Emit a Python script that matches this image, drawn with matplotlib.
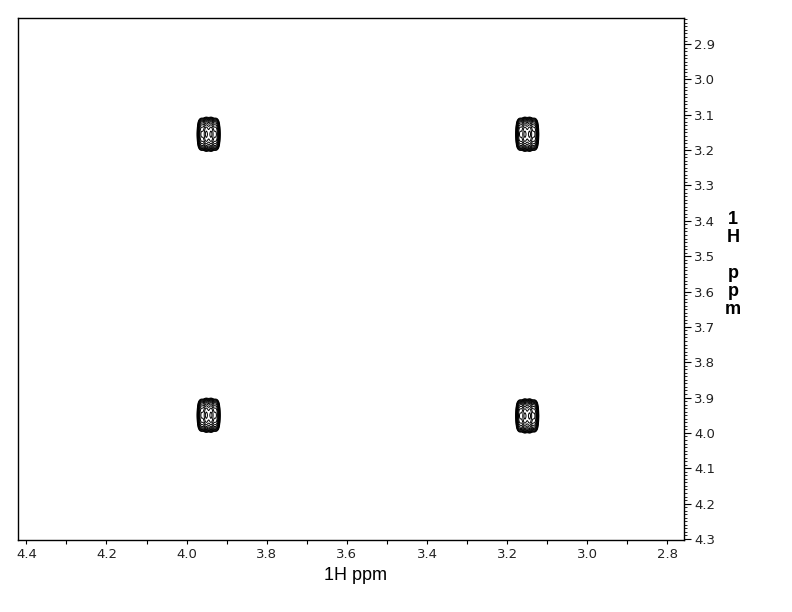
import matplotlib
matplotlib.use('Agg')
import matplotlib.pyplot as plt
import numpy as np
from matplotlib.ticker import MultipleLocator, FixedLocator

# -- Data: COSY cross/diagonal peaks (ppm) --
peak_f2 = [3.945, 3.150, 3.945, 3.150]   # horizontal axis
peak_f1 = [3.155, 3.155, 3.950, 3.952]   # vertical axis
peak_amp = [1.0, 1.0, 1.0, 1.0]

# multiplet fine structure (offsets in ppm, relative intensities)
mult_dx = [-0.018, -0.006, 0.006, 0.018]
mult_wx = [0.5, 1.0, 1.0, 0.5]
mult_dy = [-0.030, -0.015, 0.0, 0.015, 0.030]
mult_wy = [0.35, 0.75, 1.0, 0.75, 0.35]
sigma_x = 0.0045
sigma_y = 0.0085

x_ticks = [4.4, 4.2, 4.0, 3.8, 3.6, 3.4, 3.2, 3.0, 2.8]
y_ticks = [2.9, 3.0, 3.1, 3.2, 3.3, 3.4, 3.5, 3.6, 3.7, 3.8, 3.9, 4.0, 4.1, 4.2, 4.3]
X_LIM = (4.42, 2.758)
Y_LIM = (4.303, 2.827)

# -- Build the 2D spectrum from the peak list --
x = np.linspace(X_LIM[1], X_LIM[0], 1700)
y = np.linspace(Y_LIM[1], Y_LIM[0], 1500)
XX, YY = np.meshgrid(x, y)
Z = np.zeros_like(XX)
for cx, cy, a in zip(peak_f2, peak_f1, peak_amp):
    for dx, wx in zip(mult_dx, mult_wx):
        for dy, wy in zip(mult_dy, mult_wy):
            Z += a * wx * wy * np.exp(-((XX - cx - dx) ** 2) / (2 * sigma_x ** 2)
                                      - ((YY - cy - dy) ** 2) / (2 * sigma_y ** 2))

levels = Z.max() * np.geomspace(0.025, 0.9, 12)

plt.rcParams['font.family'] = ['DejaVu Sans']

fig = plt.figure(figsize=(7.92, 6.12), dpi=100)
fig.patch.set_facecolor('white')
ax = fig.add_axes([18.3 / 792, 1 - 540 / 612, 666 / 792, 521.7 / 612])

ax.contour(XX, YY, Z, levels=levels, colors='black', linewidths=0.7)

ax.set_xlim(*X_LIM)
ax.set_ylim(*Y_LIM)

# x axis: bottom, labels every 0.2, minor every 0.1
ax.xaxis.set_major_locator(FixedLocator(x_ticks))
ax.xaxis.set_minor_locator(MultipleLocator(0.1))
ax.set_xticklabels([f'{v:.1f}' for v in x_ticks])
ax.tick_params(axis='x', which='both', direction='out', length=3, width=0.8,
               labelsize=9.5, pad=3, colors='black', labelcolor='#222222')

# y axis: on the right
ax.yaxis.tick_right()
ax.yaxis.set_major_locator(FixedLocator(y_ticks))
ax.yaxis.set_minor_locator(MultipleLocator(0.01))
ax.set_yticklabels([f'{v:.1f}' for v in y_ticks])
ax.tick_params(axis='y', which='major', direction='out', length=5, width=0.8,
               labelsize=9.5, pad=2, labelcolor='#222222')
ax.tick_params(axis='y', which='minor', direction='out', length=2, width=0.6)

for spine in ax.spines.values():
    spine.set_color('black')
    spine.set_linewidth(1.0)

fig.text(355 / 792, 1 - 576 / 612, '1H ppm', ha='center', va='center',
         fontsize=13, family=['Liberation Sans', 'DejaVu Sans'])
fig.text(733 / 792, 1 - 211 / 612, '1\nH\n\np\np\nm', ha='center', va='top',
         fontsize=13, linespacing=1.08, fontweight='bold',
         family=['Liberation Sans', 'DejaVu Sans'])

fig.savefig('out.png', dpi=100, facecolor='white')
plt.close(fig)
